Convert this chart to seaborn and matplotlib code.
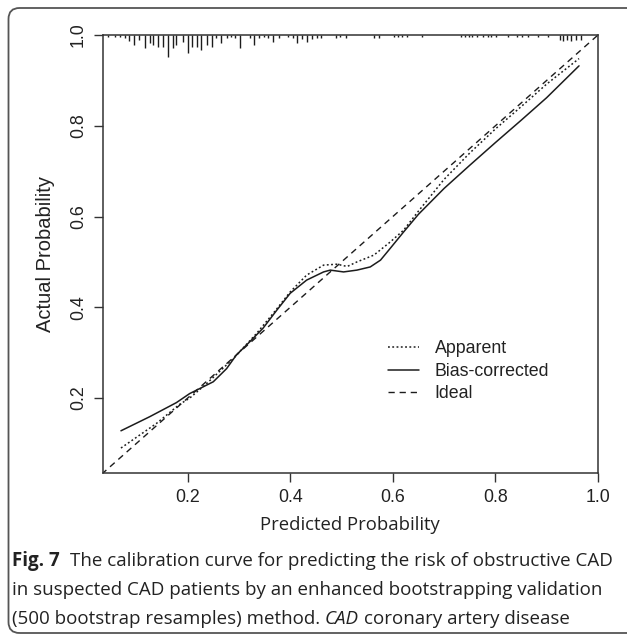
import numpy as np
import pandas as pd
import matplotlib
matplotlib.use("Agg")
import matplotlib.pyplot as plt
import matplotlib.transforms as mtransforms
from matplotlib.patches import FancyBboxPatch
import seaborn as sns

# Calibration curves: predicted probability vs. observed (actual) probability
pred_apparent = [0.070, 0.139, 0.184, 0.204, 0.237, 0.289, 0.334, 0.367, 0.400,
                 0.432, 0.465, 0.491, 0.511, 0.530, 0.563, 0.595, 0.621, 0.650,
                 0.700, 0.750, 0.800, 0.850, 0.900, 0.963]
obs_apparent = [0.090, 0.144, 0.186, 0.200, 0.232, 0.287, 0.342, 0.387, 0.434,
                0.471, 0.493, 0.495, 0.490, 0.500, 0.515, 0.544, 0.570, 0.612,
                0.682, 0.740, 0.793, 0.842, 0.892, 0.948]

pred_corrected = [0.070, 0.126, 0.178, 0.204, 0.250, 0.276, 0.295, 0.321, 0.347,
                  0.374, 0.400, 0.432, 0.465, 0.478, 0.504, 0.530, 0.556, 0.576,
                  0.595, 0.621, 0.650, 0.700, 0.750, 0.800, 0.850, 0.900, 0.963]
obs_corrected = [0.128, 0.159, 0.190, 0.210, 0.236, 0.265, 0.295, 0.324, 0.354,
                 0.394, 0.431, 0.460, 0.478, 0.482, 0.478, 0.482, 0.489, 0.504,
                 0.530, 0.566, 0.605, 0.662, 0.713, 0.763, 0.812, 0.862, 0.932]

ideal = [0.0, 1.0]

# Distribution of predicted risks (rug along the top axis)
rug_pred = [0.044, 0.059, 0.068, 0.077, 0.086, 0.096, 0.106, 0.116, 0.126, 0.133,
            0.143, 0.151, 0.161, 0.171, 0.178, 0.190, 0.200, 0.208, 0.218, 0.227,
            0.237, 0.247, 0.255, 0.265, 0.276, 0.284, 0.292, 0.302, 0.321, 0.329,
            0.340, 0.349, 0.357, 0.367, 0.379, 0.396, 0.405, 0.414, 0.422, 0.432,
            0.442, 0.452, 0.460, 0.490, 0.498, 0.508, 0.563, 0.573, 0.602, 0.610,
            0.618, 0.628, 0.657, 0.732, 0.740, 0.749, 0.755, 0.764, 0.775, 0.785,
            0.791, 0.801, 0.824, 0.842, 0.851, 0.863, 0.883, 0.902, 0.925, 0.931,
            0.940, 0.948, 0.957, 0.967]
rug_freq = [2, 2, 2, 3, 6, 10, 5, 13, 8, 10,
            12, 12, 22, 13, 10, 7, 18, 12, 12, 15,
            10, 12, 3, 8, 3, 2, 3, 13, 3, 10,
            3, 2, 3, 7, 3, 2, 3, 8, 4, 7,
            4, 3, 3, 3, 2, 3, 3, 3, 2, 2,
            2, 2, 2, 2, 2, 2, 2, 2, 2, 2,
            2, 2, 2, 2, 2, 2, 2, 2, 5, 6,
            5, 6, 5, 5]

xticks = [0.2, 0.4, 0.6, 0.8, 1.0]
yticks = [0.2, 0.4, 0.6, 0.8, 1.0]
lim = (0.035, 1.0)

W, H = 627, 634
sns.set_style("ticks")
plt.rcParams["font.family"] = ["Liberation Sans", "DejaVu Sans"]

fig = plt.figure(figsize=(W / 100, H / 100), dpi=100)
ax = fig.add_axes([103 / W, 1 - 473 / H, 495 / W, 438 / H])

ink = "#1c1c1c"
df_app = pd.DataFrame({"x": pred_apparent, "y": obs_apparent})
df_cor = pd.DataFrame({"x": pred_corrected, "y": obs_corrected})
df_ide = pd.DataFrame({"x": ideal, "y": ideal})

sns.lineplot(data=df_app, x="x", y="y", ax=ax, color=ink, lw=1.1,
             linestyle=(0, (1.2, 1.6)), label="Apparent", sort=False)
sns.lineplot(data=df_cor, x="x", y="y", ax=ax, color=ink, lw=1.1,
             linestyle="-", label="Bias-corrected", sort=False)
sns.lineplot(data=df_ide, x="x", y="y", ax=ax, color=ink, lw=1.0,
             linestyle=(0, (4.5, 3.5)), label="Ideal", sort=False)

# Rug of predicted risks hanging from the top axis
trans = mtransforms.blended_transform_factory(ax.transData, ax.transAxes)
ax.vlines(rug_pred, 1.0, [1.0 - f / 438 for f in rug_freq], transform=trans,
          color=ink, lw=1.0, clip_on=False)

ax.set_xlim(*lim)
ax.set_ylim(*lim)
ax.set_xticks(xticks)
ax.set_yticks(yticks)
ax.set_xticklabels([f"{v:.1f}" for v in xticks])
ax.set_yticklabels([f"{v:.1f}" for v in yticks], rotation=90, va="center")
ax.tick_params(axis="both", length=6.5, width=1.0, color="#333333",
               labelsize=12.8, labelcolor="#222222", pad=5)
for s in ax.spines.values():
    s.set_linewidth(1.1)
    s.set_color("#333333")
ax.set_xlabel("")
ax.set_ylabel("Actual Probability", fontsize=14.5, color="#222222", labelpad=11)

fig.text(350 / W, 1 - 525 / H, "Predicted Probability", ha="center", va="center",
         fontsize=13.3, family="Open Sans", color="#222222")

leg = ax.legend(loc="upper left", bbox_to_anchor=(0.562, 0.319), frameon=False,
                fontsize=12.8, handlelength=1.75, handletextpad=0.85,
                labelspacing=0.3, borderaxespad=0)
for t in leg.get_texts():
    t.set_color("#222222")

# Rounded panel border
frame = FancyBboxPatch((8.5, 1.0), 630, 625, boxstyle="round,pad=0,rounding_size=11",
                       transform=mtransforms.IdentityTransform(), fill=False,
                       edgecolor="#555555", lw=1.3)
fig.patches.append(frame)

# Caption, laid out piece by piece to mix bold, regular and italic text
renderer = fig.canvas.get_renderer()
cap_kw = dict(family="Open Sans", fontsize=13.5, color="#222222",
              transform=mtransforms.IdentityTransform(), va="baseline")

def put_line(x, y, parts):
    for s, weight, style in parts:
        t = fig.text(x, y, s, fontweight=weight, fontstyle=style, **cap_kw)
        x = t.get_window_extent(renderer).x1
    return x

def space(weight="normal"):
    a = fig.text(0, 0, "n n", fontweight=weight, **cap_kw)
    b = fig.text(0, 0, "nn", fontweight=weight, **cap_kw)
    w = a.get_window_extent(renderer).width - b.get_window_extent(renderer).width
    a.remove(); b.remove()
    return w

sp = space()
x0 = 12
x = put_line(x0, H - 566, [("Fig. 7", "bold", "normal")])
put_line(x + 2 * sp, H - 566,
         [("The calibration curve for predicting the risk of obstructive CAD", "normal", "normal")])
put_line(x0, H - 595,
         [("in suspected CAD patients by an enhanced bootstrapping validation", "normal", "normal")])
x = put_line(x0, H - 624, [("(500 bootstrap resamples) method.", "normal", "normal")])
x = put_line(x + sp, H - 624, [("CAD", "normal", "italic")])
put_line(x + sp, H - 624, [("coronary artery disease", "normal", "normal")])

fig.savefig("out.png", dpi=100)
